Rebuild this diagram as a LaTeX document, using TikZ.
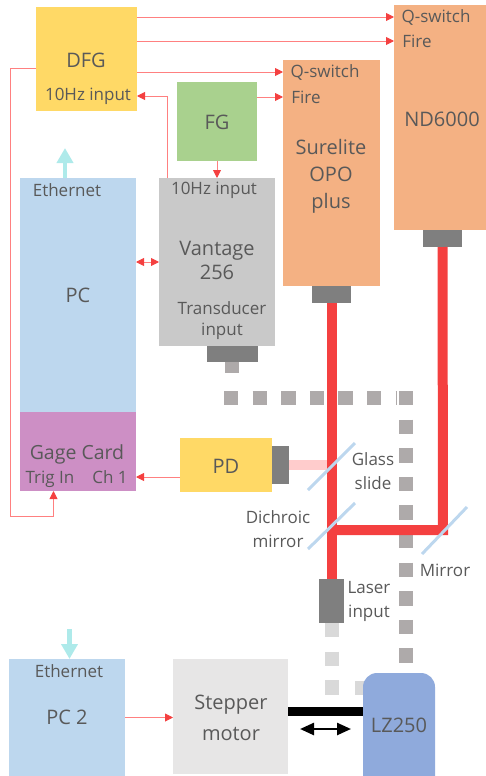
\documentclass[tikz,border=0pt]{standalone}
\usepackage{xcolor}
\usepackage{fontspec}
\setmainfont{Open Sans}
\usetikzlibrary{arrows.meta,positioning}
\definecolor{txtgray}{HTML}{595959}
\definecolor{dfgyellow}{HTML}{FFD966}
\definecolor{fggreen}{HTML}{A9D18E}
\definecolor{laserorange}{HTML}{F4B183}
\definecolor{pcblue}{HTML}{BDD7EE}
\definecolor{gagepurple}{HTML}{CD8FC5}
\definecolor{vantagegray}{HTML}{C9C9C9}
\definecolor{portgray}{HTML}{7F7F7F}
\definecolor{dotgray}{HTML}{AEAAAA}
\definecolor{dotlight}{HTML}{D9D9D9}
\definecolor{steppergray}{HTML}{E7E6E6}
\definecolor{lzblue}{HTML}{8FAADC}
\definecolor{beamred}{HTML}{F44040}
\definecolor{wirepink}{HTML}{FF8080}
\definecolor{pinkbeam}{HTML}{FFCCCC}
\definecolor{netcyan}{HTML}{AEEAEA}

\begin{document}
\begin{tikzpicture}[
  x=1pt, y=-1pt,
  box/.style={rectangle, inner sep=0pt, outer sep=0pt},
  port/.style={box, fill=portgray},
  big/.style={text=txtgray, inner sep=0pt, align=center, font=\fontsize{20}{27}\selectfont},
  small/.style={text=txtgray, inner sep=0pt, align=center, font=\fontsize{17}{24}\selectfont},
  wire/.style={wirepink, line width=0.9pt},
  wirearrow/.style={wire, -{Triangle[length=8pt, width=8pt, color=beamred]}},
  beam/.style={beamred, line width=10pt},
  slide/.style={pcblue, line width=3pt},
  net/.style={netcyan, line width=4.5pt, -{Triangle[length=15pt, width=16pt]}},
  dots/.style={line width=14pt, dash pattern=on 14.3pt off 14.3pt}
]
\useasboundingbox (0,0) rectangle (486,776);

% boxes
\node[box, fill=dfgyellow, minimum width=101pt, minimum height=104pt] (dfg) at (86.5,59) {};
\node[box, fill=fggreen, minimum width=80pt, minimum height=79pt] (fg) at (217,121.5) {};
\node[box, fill=laserorange, minimum width=97pt, minimum height=226pt] (surelite) at (331.5,173) {};
\node[box, fill=laserorange, minimum width=92pt, minimum height=225pt] (nd) at (440,117.5) {};
\node[box, fill=pcblue, minimum width=116pt, minimum height=234pt] (pc) at (78,295) {};
\node[box, fill=gagepurple, minimum width=116pt, minimum height=79pt, below=0pt of pc] (gage) {};
\node[box, fill=vantagegray, minimum width=116pt, minimum height=168pt] (vantage) at (217,262) {};
\node[box, fill=dfgyellow, minimum width=92pt, minimum height=54pt] (pd) at (226,465) {};
\node[box, fill=pcblue, minimum width=116pt, minimum height=117pt] (pctwo) at (67,717.5) {};
\node[box, fill=steppergray, minimum width=115pt, minimum height=115pt] (stepper) at (230.5,716.5) {};

% ports
\node[port, minimum width=39pt, minimum height=17pt, below=0pt of nd.south, xshift=2.5pt] (ndport) {};
\node[port, minimum width=39pt, minimum height=17pt, below=0pt of surelite] (sureliteport) {};
\node[port, minimum width=51pt, minimum height=16pt, below=0pt of vantage, xshift=15.5pt] (vantageport) {};
\node[port, minimum width=17pt, minimum height=38pt, right=0pt of pd] (pdport) {};
\node[port, minimum width=25pt, minimum height=44pt] (laserport) at (331.5,601) {};

\coordinate (stubend) at (232,373);
\coordinate (rowleft) at (224,397.5);
\coordinate (rowright) at (396,397.5);
\coordinate (columntop) at (406,391);
\coordinate (columnend) at (406,663);
\coordinate (lightend) at (332,695);
\coordinate (lightleft) at (355,688);
\coordinate (lightright) at (370,688);
\coordinate (ndturn) at (443,530);
\coordinate (dichroic) at (332,530);
\coordinate (glasshit) at (328,465);
\coordinate (lzbar) at (363,711.5);

% ultrasound path
\draw[dotgray, line width=14pt] (vantageport.south -| stubend) -- (stubend);
\draw[dots, dotgray] (rowleft) -- (rowright);
\draw[dots, dotgray] (columntop) -- (columnend);
\draw[dots, dotlight] (laserport.south -| lightend) -- (lightend);
\draw[dotlight, line width=14pt] (lightleft) -- (lightright);

% LZ250
\fill[lzblue] (363,776) [rounded corners=14pt] -- (363,673) -- (435,673) [sharp corners] -- (435,776) -- cycle;

% laser beams
\draw[pinkbeam, line width=10pt] (pdport.east) -- (glasshit);
\draw[beam] (sureliteport.south) -- (laserport.north);
\draw[beam] (ndport.south) -- (ndturn) -- (dichroic);

% mirrors
\coordinate (glasstop) at (355,443);
\coordinate (glassend) at (308,490);
\coordinate (dichroictop) at (355,503);
\coordinate (dichroicend) at (308,549);
\coordinate (mirrortop) at (467,507);
\coordinate (mirrorend) at (422,554);
\draw[slide] (glasstop) -- (glassend);
\draw[slide] (dichroictop) -- (dichroicend);
\draw[slide] (mirrortop) -- (mirrorend);

% texts
\node[big] (dfgtext) at (86,60) {DFG};
\node[small] (dfginput) at (88,96) {10Hz input};
\node[big] (fgtext) at (217,122) {FG};
\node[small] (sureliteq) at (325,72) {Q-switch};
\node[small] (surelitefire) at (306,97) {Fire};
\node[big] (surelitetext) at (331,176) {Surelite\\OPO\\plus};
\node[small] (ndq) at (436,17) {Q-switch};
\node[small] (ndfire) at (417,41) {Fire};
\node[big] (ndtext) at (442,119) {ND6000};
\node[small] (pceth) at (67,190) {Ethernet};
\node[big] (pctext) at (78,295) {PC};
\node[small] (vantageinput) at (214,190) {10Hz input};
\node[big] (vantagetext) at (217,260) {Vantage\\[-3pt]256};
\node[small] (transducer) at (222,321) {Transducer\\[-3pt]input};
\node[big, font=\fontsize{19.5}{27}\selectfont] (gagetext) at (77,454) {Gage Card};
\node[small] (trigin) at (50,479) {Trig In};
\node[small] (chone) at (110,477) {Ch 1};
\node[big] (pdtext) at (226,466) {PD};
\node[small] (glasstext) at (373,471) {Glass\\slide};
\node[small] (dichroictext) at (278,529) {Dichroic\\mirror};
\node[small] (mirrortext) at (445,570) {Mirror};
\node[small] (lasertext) at (369,601) {Laser\\input};
\node[small] (pctwoeth) at (69,671) {Ethernet};
\node[big] (pctwotext) at (67,717) {PC 2};
\node[big] (steppertext) at (231,718) {Stepper\\[4pt]motor};
\node[big] (lztext) at (399,725) {LZ250};

% signal wires
\draw[wirearrow] (dfg.east |- ndq) -- (nd.west |- ndq);
\draw[wirearrow] (dfg.east |- ndfire) -- (nd.west |- ndfire);
\draw[wirearrow] (dfg.east |- sureliteq) -- (surelite.west |- sureliteq);
\draw[wirearrow] (fg.east |- surelitefire) -- (surelite.west |- surelitefire);
\draw[wirearrow] (fg) -- (vantage.north -| fg);
\coordinate (vantageout) at (167.5,178);
\draw[wirearrow] (vantageout) |- (dfg.east |- dfginput);
\coordinate (pcvantage) at (136,262);
\draw[wire, {Triangle[length=8pt, width=8pt, color=beamred]}-{Triangle[length=8pt, width=8pt, color=beamred]}] (pcvantage) -- (vantage.west);
\draw[wirearrow] (pd.west |- chone) -- (gage.east |- chone);
\coordinate (dfgleft) at (10.5,68);
\coordinate (trigcorner) at (10.5,516);
\coordinate (trigbottom) at (53.5,516);
\draw[wirearrow] (dfg.west |- dfgleft) -- (dfgleft) -- (trigcorner) -- (trigbottom) -- (gage.south -| trigbottom);
\draw[wirearrow] (pctwo.east) -- (stepper.west |- pctwo.east);

% ethernet arrows
\coordinate (ethup) at (65,148);
\coordinate (ethdown) at (69.5,629);
\draw[net] (pc.north -| ethup) -- (ethup);
\draw[net] (ethdown) -- (pctwo.north -| ethdown);

% stepper drive
\draw[black, line width=9pt] (stepper.east |- lzbar) -- (lzbar);
\coordinate (driveleft) at (300,729);
\coordinate (driveright) at (351,729);
\draw[black, line width=2.5pt, {Triangle[length=14pt, width=12pt]}-{Triangle[length=14pt, width=12pt]}] (driveleft) -- (driveright);
\end{tikzpicture}
\end{document}
